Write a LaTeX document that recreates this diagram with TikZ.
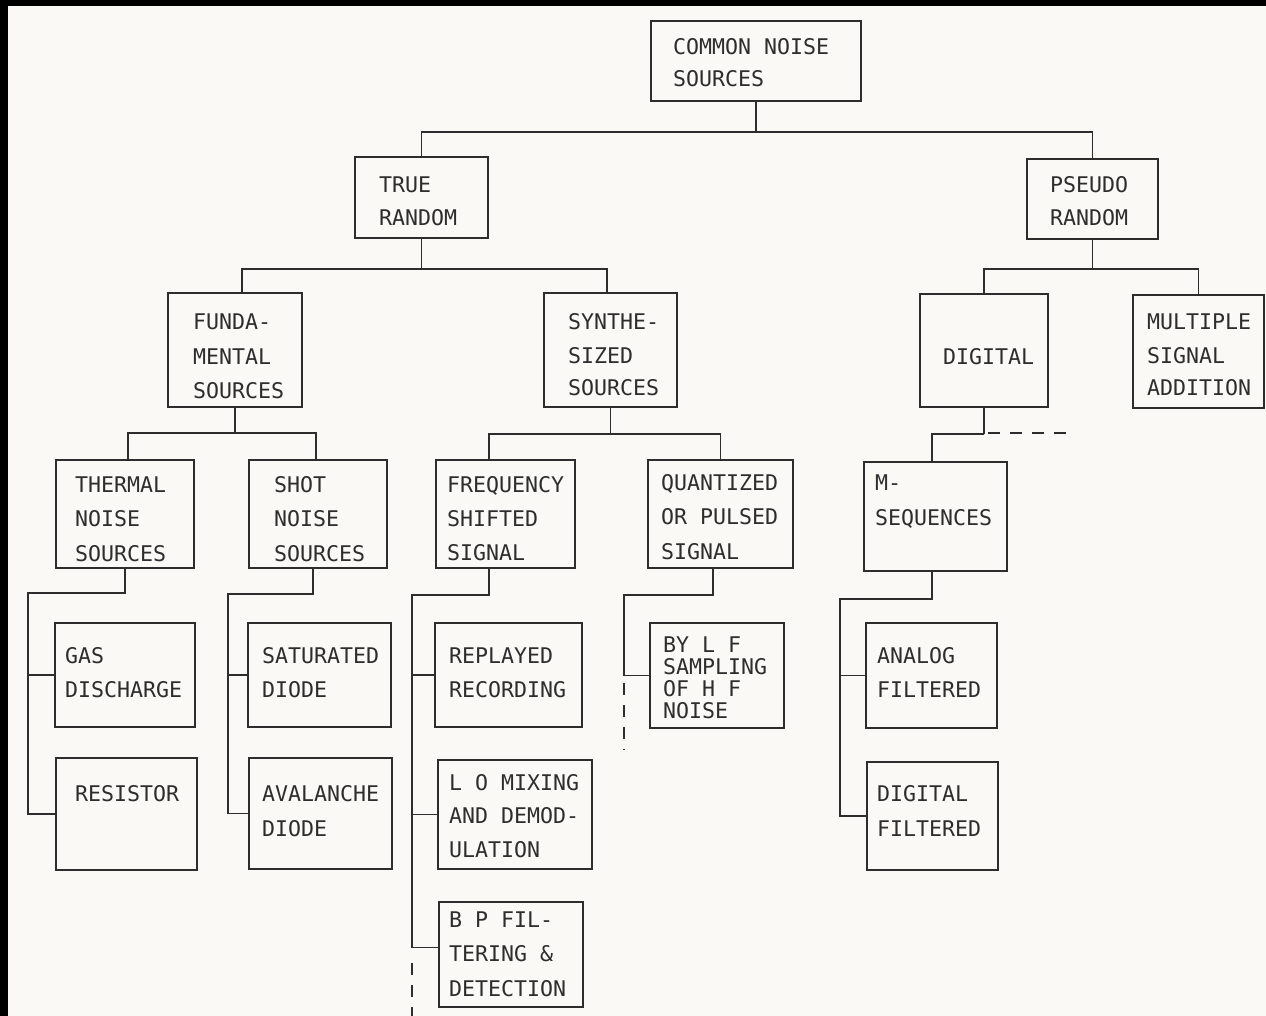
\documentclass[tikz,border=0pt]{standalone}
\usepackage{fontspec}
\newfontfamily\typefont{DejaVu Sans Mono}
\definecolor{paper}{RGB}{250,249,246}
\definecolor{ink}{RGB}{45,45,45}
% typewriter face; \chargap is one full character cell of blank space
\newcommand\typewriterfont[1]{\typefont\fontsize{21.6}{#1}\selectfont}
\newcommand\chargap{\hphantom{X}}
\tikzset{
  box/.style={draw=ink, line width=1.9pt, rectangle, inner sep=0pt},
  txt/.style={anchor=base west, inner sep=0pt, text=ink, text width=170pt, align=left,
              font=\typewriterfont{#1}},
  txt/.default=34,
  wire/.style={draw=ink, line width=1.9pt},
  dashwire/.style={wire, dash pattern=on 12pt off 10pt}
}
\begin{document}
\begin{tikzpicture}[x=1pt,y=-1pt]
  \useasboundingbox (0,0) rectangle (1266,1016);
  \fill[black] (0,0) rectangle (1266,1016);
  \fill[paper] (8,6) rectangle (1266,1016);

  % boxes
  \node[box,minimum width=210pt,minimum height=80pt]  (common)   at (756,61)     {};
  \node[box,minimum width=133pt,minimum height=81pt]  (true)     at (421.5,197.5){};
  \node[box,minimum width=131pt,minimum height=80pt]  (pseudo)   at (1092.5,199) {};
  \node[box,minimum width=134pt,minimum height=114pt] (funda)    at (235,350)    {};
  \node[box,minimum width=133pt,minimum height=114pt] (synth)    at (610.5,350)  {};
  \node[box,minimum width=128pt,minimum height=113pt] (digital)  at (984,350.5)  {};
  \node[box,minimum width=131pt,minimum height=113pt] (multi)    at (1198.5,351.5){};
  \node[box,minimum width=138pt,minimum height=108pt] (thermal)  at (125,514)    {};
  \node[box,minimum width=138pt,minimum height=108pt] (shot)     at (318,514)    {};
  \node[box,minimum width=139pt,minimum height=108pt] (freq)     at (505.5,514)  {};
  \node[box,minimum width=145pt,minimum height=108pt] (quant)    at (720.5,514)  {};
  \node[box,minimum width=143pt,minimum height=109pt] (mseq)     at (935.5,516.5){};
  \node[box,minimum width=140pt,minimum height=104pt] (gas)      at (125,675)    {};
  \node[box,minimum width=141pt,minimum height=112pt] (resistor) at (126.5,814)  {};
  \node[box,minimum width=143pt,minimum height=104pt] (sat)      at (319.5,675)  {};
  \node[box,minimum width=143pt,minimum height=111pt] (aval)     at (320.5,813.5){};
  \node[box,minimum width=147pt,minimum height=104pt] (replayed) at (508.5,675)  {};
  \node[box,minimum width=154pt,minimum height=109pt] (lomix)    at (515,814.5)  {};
  \node[box,minimum width=144pt,minimum height=105pt] (bp)       at (511,954.5)  {};
  \node[box,minimum width=134pt,minimum height=105pt] (bylf)     at (717,675.5)  {};
  \node[box,minimum width=131pt,minimum height=105pt] (analog)   at (931.5,675.5){};
  \node[box,minimum width=131pt,minimum height=108pt] (digfilt)  at (932.5,816)  {};

  % box texts
  \node[txt=32]   (common-t)   at (673,55)   {COMMON\chargap NOISE\\SOURCES};
  \node[txt=33]   (true-t)     at (379,193)  {TRUE\\RANDOM};
  \node[txt=33]   (pseudo-t)   at (1050,193) {PSEUDO\\RANDOM};
  \node[txt=34.5] (funda-t)    at (193,330)  {FUNDA-\\MENTAL\\SOURCES};
  \node[txt=33]   (synth-t)    at (568,330)  {SYNTHE-\\SIZED\\SOURCES};
  \node[txt]      (digital-t)  at (943,364)  {DIGITAL};
  \node[txt=33]   (multi-t)    at (1147,330) {MULTIPLE\\SIGNAL\\ADDITION};
  \node[txt=34.5] (thermal-t)  at (75,492)   {THERMAL\\NOISE\\SOURCES};
  \node[txt=34.5] (shot-t)     at (274,492)  {SHOT\\NOISE\\SOURCES};
  \node[txt=34]   (freq-t)     at (447,492)  {FREQUENCY\\SHIFTED\\SIGNAL};
  \node[txt=34.5] (quant-t)    at (661,490)  {QUANTIZED\\OR\chargap PULSED\\SIGNAL};
  \node[txt=35]   (mseq-t)     at (875,490)  {M-\\SEQUENCES};
  \node[txt=34]   (gas-t)      at (65,663)   {GAS\\DISCHARGE};
  \node[txt=34]   (sat-t)      at (262,663)  {SATURATED\\DIODE};
  \node[txt=34]   (replayed-t) at (449,663)  {REPLAYED\\RECORDING};
  \node[txt=22]   (bylf-t)     at (663,652)  {BY\chargap L\chargap F\\SAMPLING\\OF\chargap H\chargap F\\NOISE};
  \node[txt=34]   (analog-t)   at (877,663)  {ANALOG\\FILTERED};
  \node[txt]      (resistor-t) at (75,801)   {RESISTOR};
  \node[txt=35]   (aval-t)     at (262,801)  {AVALANCHE\\DIODE};
  \node[txt=33.5] (lomix-t)    at (449,790)  {L\chargap O\chargap MIXING\\AND\chargap DEMOD-\\ULATION};
  \node[txt=35]   (digfilt-t)  at (877,801)  {DIGITAL\\FILTERED};
  \node[txt=34.5] (bp-t)       at (449,927)  {B\chargap P\chargap FIL-\\TERING\chargap \&\\DETECTION};

  % tree connectors
  \draw[wire] (common.south) -- ++(0,30) coordinate (j0);
  \draw[wire] (true.north) |- (j0) -| (pseudo.north);

  \draw[wire] (true.south) -- ++(0,30) coordinate (j1);
  \draw[wire] ([xshift=7pt]funda.north) |- (j1) -| ([xshift=-3.5pt]synth.north);

  \draw[wire] (pseudo.south) -- ++(0,29) coordinate (j2);
  \draw[wire] (digital.north) |- (j2) -| (multi.north);

  \draw[wire] (funda.south) -- ++(0,25) coordinate (j3);
  \draw[wire] ([xshift=3pt]thermal.north) |- (j3) -| ([xshift=-2pt]shot.north);

  \draw[wire] (synth.south) -- ++(0,26) coordinate (j4);
  \draw[wire] ([xshift=-16.5pt]freq.north) |- (j4) -| (quant.north);

  \draw[wire] (digital.south) -- ++(0,26) coordinate (j5);
  \draw[wire] (j5) -| ([xshift=-3.5pt]mseq.north);
  \coordinate (j5a) at (988,433);
  \coordinate (j5b) at (1072,433);
  \draw[dashwire] (j5a) -- (j5b);

  % side buses to leaf boxes
  \coordinate (tbus) at (28,593);
  \draw[wire] (thermal.south) |- (tbus) |- (resistor.west);
  \draw[wire] (tbus |- gas.west) -- (gas.west);

  \coordinate (sbus) at (228,594);
  \draw[wire] ([xshift=-5pt]shot.south) |- (sbus) |- (aval.west);
  \draw[wire] (sbus |- sat.west) -- (sat.west);

  \coordinate (fbus) at (412,595);
  \draw[wire] ([xshift=-16.5pt]freq.south) |- (fbus) |- ([yshift=7pt]bp.west);
  \draw[wire] (fbus |- replayed.west) -- (replayed.west);
  \draw[wire] (fbus |- lomix.west) -- (lomix.west);
  \coordinate (fdash) at (412,963);
  \coordinate (fend) at (412,1018);
  \draw[dashwire] (fdash) -- (fend);

  \coordinate (qbus) at (624,595);
  \draw[wire] ([xshift=-7.5pt]quant.south) |- (qbus) |- (bylf.west);
  \coordinate (qdash) at (624,683);
  \coordinate (qend) at (624,750);
  \draw[dashwire] (qdash) -- (qend);

  \coordinate (mbus) at (840,599);
  \draw[wire] ([xshift=-3.5pt]mseq.south) |- (mbus) |- (digfilt.west);
  \draw[wire] (mbus |- analog.west) -- (analog.west);
\end{tikzpicture}
\end{document}
